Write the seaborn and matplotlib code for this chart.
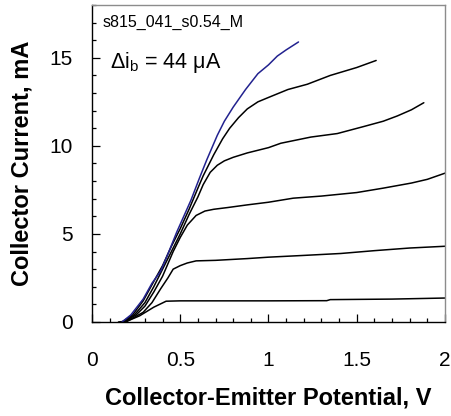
import numpy as np
import pandas as pd
import matplotlib
matplotlib.use("Agg")
import matplotlib.pyplot as plt
from matplotlib.ticker import MultipleLocator, FixedLocator
import seaborn as sns

# ---------------------------------------------------------------------
# Data (V_ce in V, I_c in mA), one curve per i_b step
# ---------------------------------------------------------------------
vce_1 = [0.15, 0.20, 0.27, 0.35, 0.42, 0.50, 0.70, 1.00, 1.33, 1.35, 1.70, 2.00]
ic_1 = [0.00, 0.05, 0.35, 0.84, 1.18, 1.20, 1.20, 1.20, 1.21, 1.27, 1.30, 1.36]

vce_2 = [0.17, 0.21, 0.29, 0.34, 0.39, 0.43, 0.46, 0.50, 0.54, 0.59, 0.70, 0.88,
         1.00, 1.20, 1.41, 1.60, 1.80, 2.00]
ic_2 = [0.00, 0.10, 0.55, 1.10, 1.90, 2.50, 3.00, 3.20, 3.35, 3.47, 3.50, 3.60,
        3.68, 3.78, 3.89, 4.05, 4.20, 4.30]

vce_3 = [0.18, 0.25, 0.30, 0.35, 0.40, 0.46, 0.50, 0.54, 0.59, 0.64, 0.69, 0.77,
         0.88, 1.00, 1.14, 1.30, 1.50, 1.65, 1.81, 1.90, 2.00]
ic_3 = [0.00, 0.40, 0.90, 1.70, 2.60, 4.00, 4.80, 5.50, 6.05, 6.30, 6.40, 6.50,
        6.65, 6.80, 7.03, 7.15, 7.35, 7.60, 7.89, 8.10, 8.45]

vce_4 = [0.18, 0.24, 0.30, 0.35, 0.40, 0.45, 0.50, 0.55, 0.60, 0.63, 0.67, 0.71,
         0.75, 0.80, 0.88, 1.00, 1.07, 1.24, 1.39, 1.54, 1.65, 1.73, 1.81, 1.88]
ic_4 = [0.00, 0.40, 1.10, 2.00, 3.00, 4.00, 5.00, 6.10, 7.10, 7.80, 8.50, 8.90,
        9.15, 9.35, 9.60, 9.90, 10.15, 10.50, 10.70, 11.10, 11.40, 11.70, 12.05, 12.45]

vce_5 = [0.17, 0.23, 0.29, 0.35, 0.40, 0.45, 0.50, 0.55, 0.60, 0.63, 0.69, 0.74,
         0.78, 0.83, 0.88, 0.94, 1.00, 1.11, 1.22, 1.35, 1.50, 1.61]
ic_5 = [0.00, 0.40, 1.20, 2.30, 3.20, 4.30, 5.30, 6.40, 7.60, 8.30, 9.50, 10.40,
        11.00, 11.60, 12.10, 12.50, 12.75, 13.20, 13.50, 14.00, 14.45, 14.85]

vce_6 = [0.17, 0.22, 0.29, 0.34, 0.39, 0.44, 0.48, 0.52, 0.56, 0.61, 0.65, 0.68,
         0.71, 0.75, 0.80, 0.87, 0.94, 1.00, 1.05, 1.10, 1.17]
ic_6 = [0.00, 0.40, 1.30, 2.20, 2.90, 4.10, 5.10, 6.00, 6.90, 8.20, 9.20, 9.90,
        10.60, 11.40, 12.20, 13.20, 14.10, 14.60, 15.10, 15.45, 15.90]

curves = [(vce_1, ic_1), (vce_2, ic_2), (vce_3, ic_3),
          (vce_4, ic_4), (vce_5, ic_5), (vce_6, ic_6)]
curve_colors = ["black"] * 5 + ["#22228f"]

x_ticks = [0, 0.5, 1, 1.5, 2]
x_tick_labels = ["0", "0.5", "1", "1.5", "2"]
y_ticks = [0, 5, 10, 15]

# ---------------------------------------------------------------------
# Plot
# ---------------------------------------------------------------------
sns.set_style("ticks")
plt.rcParams["font.family"] = ["Liberation Sans", "DejaVu Sans"]
plt.rcParams["text.color"] = "black"
plt.rcParams["axes.labelcolor"] = "black"
plt.rcParams["xtick.color"] = "black"
plt.rcParams["ytick.color"] = "black"

fig = plt.figure(figsize=(4.52, 4.16), dpi=100)
ax = fig.add_axes([0.2035, 0.226, 0.781, 0.762])

for (vx, iy), col in zip(curves, curve_colors):
    df = pd.DataFrame({"vce": vx, "ic": iy})
    sns.lineplot(data=df, x="vce", y="ic", color=col, linewidth=1.1,
                 sort=False, estimator=None, ax=ax)

ax.set_xlim(0, 2)
ax.set_ylim(0, 18)
ax.xaxis.set_major_locator(FixedLocator(x_ticks))
ax.set_xticklabels(x_tick_labels)
ax.xaxis.set_minor_locator(MultipleLocator(0.1))
ax.yaxis.set_major_locator(FixedLocator(y_ticks))
ax.yaxis.set_minor_locator(MultipleLocator(1))

ax.tick_params(which="both", direction="in", color="black", width=0.9)
ax.tick_params(which="major", length=5.5, labelsize=15, labelcolor="black")
ax.tick_params(axis="x", which="major", pad=21)
ax.tick_params(axis="y", which="major", pad=14)
ax.tick_params(which="minor", length=3.2)

for side in ["left", "bottom"]:
    ax.spines[side].set_color("black")
    ax.spines[side].set_linewidth(1.0)
for side in ["top", "right"]:
    ax.spines[side].set_visible(True)
    ax.spines[side].set_color("#8c8c8c")
    ax.spines[side].set_linewidth(1.0)

ax.set_xlabel("Collector-Emitter Potential, V", fontsize=17, fontweight="bold",
              labelpad=12, color="black")
ax.set_ylabel("Collector Current, mA", fontsize=17, fontweight="bold",
              labelpad=11, color="black")

ax.text(0.03, 0.945, "s815_041_s0.54_M", transform=ax.transAxes,
        fontsize=11.5, va="center", ha="left", color="black")
ax.text(0.05, 0.82, "Δ$\\mathregular{i_b}$ = 44 μA", transform=ax.transAxes,
        fontsize=15.5, va="center", ha="left", color="black")

fig.savefig("out.png", dpi=100)
plt.close(fig)
